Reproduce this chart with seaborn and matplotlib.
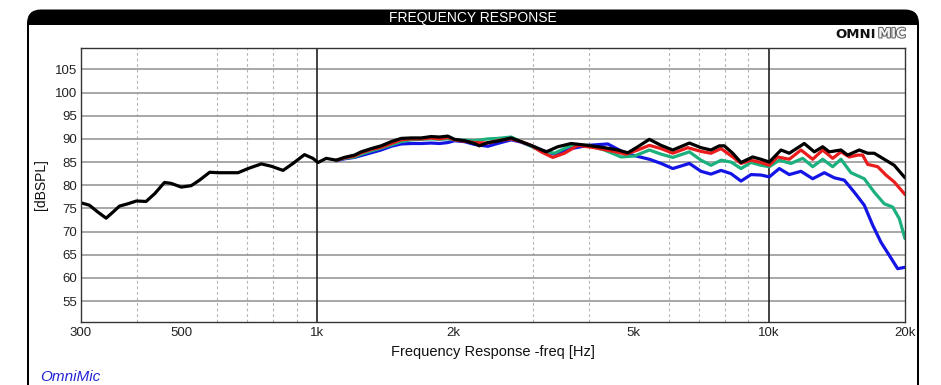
import numpy as np
import pandas as pd
import matplotlib
matplotlib.use("Agg")
import matplotlib.pyplot as plt
import matplotlib.patheffects as pe
from matplotlib.patches import FancyBboxPatch, Rectangle
import seaborn as sns

# ---------------- data (frequency in Hz, level in dBSPL) ----------------
black_freq = [300, 313, 327, 341, 353, 365, 381, 398, 418, 437, 459, 475, 500, 526, 549,
              578, 603, 634, 668, 703, 752, 791, 840, 884, 937, 978, 1004, 1047, 1102,
              1149, 1209, 1251, 1317, 1385, 1458, 1534, 1614, 1699, 1787, 1865, 1946,
              2013, 2118, 2229, 2286, 2386, 2506, 2687, 2827, 3026, 3212, 3408, 3647,
              3972, 4321, 4627, 4869, 5123, 5435, 5769, 6124, 6665, 7072, 7440, 7763,
              7964, 8312, 8670, 9203, 9600, 10016, 10630, 11088, 11970, 12596, 13147,
              13596, 14431, 14932, 15843, 16537, 17099, 17993, 18934, 20000]
black_db = [76.2, 75.7, 74.2, 72.9, 74.2, 75.5, 76.0, 76.6, 76.5, 78.2, 80.6, 80.4, 79.6,
            79.9, 81.1, 82.8, 82.7, 82.7, 82.7, 83.6, 84.6, 84.1, 83.2, 84.7, 86.6, 85.8,
            84.9, 85.8, 85.4, 86.0, 86.5, 87.2, 87.9, 88.5, 89.4, 90.1, 90.2, 90.2, 90.5,
            90.4, 90.6, 89.9, 89.6, 89.0, 88.5, 89.2, 89.5, 90.2, 89.4, 88.3, 87.2, 88.3,
            89.0, 88.6, 88.1, 87.6, 87.0, 88.3, 89.9, 88.6, 87.6, 89.1, 88.1, 87.6, 88.5,
            88.5, 86.9, 84.9, 86.1, 85.6, 85.0, 87.6, 86.9, 89.0, 87.2, 88.3, 87.2, 87.6,
            86.5, 87.6, 86.9, 86.9, 85.6, 84.3, 81.6]

red_freq = [1102, 1149, 1209, 1251, 1317, 1385, 1458, 1534, 1614, 1699, 1787, 1865, 1946,
            2013, 2118, 2229, 2386, 2506, 2687, 2827, 2975, 3131, 3322, 3525, 3775, 4108,
            4472, 4827, 5123, 5435, 5769, 6124, 6609, 7072, 7440, 7831, 8312, 8670, 9124,
            9600, 10016, 10450, 11088, 11770, 12494, 13147, 13833, 14431, 15056, 15712,
            16119, 16537, 17400, 18147, 18934, 20000]
red_db = [85.4, 85.9, 86.3, 87.0, 87.7, 88.2, 89.0, 89.8, 90.0, 90.0, 90.2, 90.0, 90.3,
          89.8, 89.5, 89.2, 89.1, 89.6, 90.0, 89.4, 88.6, 87.2, 86.0, 86.9, 88.6, 88.1,
          87.4, 86.7, 87.6, 88.6, 87.9, 86.9, 88.1, 87.3, 86.9, 87.9, 86.1, 84.7, 85.4,
          84.9, 84.3, 86.1, 85.6, 87.6, 85.6, 87.6, 85.8, 87.2, 86.1, 86.5, 86.5, 84.5,
          84.0, 82.2, 80.7, 78.0]

green_freq = [1102, 1149, 1209, 1251, 1317, 1385, 1458, 1534, 1614, 1699, 1787, 1865, 1946,
              2013, 2118, 2229, 2386, 2506, 2687, 2827, 3131, 3350, 3647, 3972, 4321, 4706,
              5035, 5435, 5769, 6124, 6665, 7072, 7440, 7831, 8240, 8670, 9124, 9600,
              10016, 10539, 11185, 11873, 12494, 13147, 13833, 14431, 15185, 16250, 17099,
              17993, 18781, 19425, 20000]
green_db = [85.4, 85.8, 86.1, 86.7, 87.4, 88.0, 88.7, 89.4, 89.8, 89.9, 90.0, 89.9, 90.0,
            89.8, 89.7, 89.6, 90.0, 90.1, 90.4, 89.4, 87.4, 86.9, 88.6, 88.6, 87.6, 86.1,
            86.3, 87.6, 86.7, 86.0, 87.2, 85.4, 84.3, 85.4, 85.0, 83.6, 84.9, 84.3, 84.0,
            85.4, 84.7, 85.8, 84.0, 85.6, 84.0, 85.6, 82.7, 81.4, 78.5, 76.0, 75.3, 72.8,
            68.5]

blue_freq = [1102, 1149, 1209, 1251, 1317, 1385, 1458, 1534, 1614, 1699, 1787, 1865, 1946,
             2013, 2118, 2229, 2386, 2506, 2687, 2827, 3131, 3350, 3647, 3972, 4397, 4786,
             5079, 5435, 5769, 6124, 6665, 7072, 7440, 7831, 8240, 8670, 9124, 9600, 10016,
             10539, 11088, 11770, 12494, 13257, 13948, 14676, 15443, 16250, 16961, 17694,
             18455, 19265, 20000]
blue_db = [85.3, 85.7, 86.0, 86.4, 87.0, 87.6, 88.4, 88.9, 89.0, 89.0, 89.1, 89.0, 89.2,
           89.6, 89.4, 88.8, 88.4, 89.0, 89.8, 89.3, 87.6, 86.7, 87.9, 88.6, 88.9, 87.0,
           86.3, 85.6, 84.7, 83.6, 84.7, 83.0, 82.4, 83.2, 82.5, 80.9, 82.3, 82.2, 81.8,
           83.6, 82.3, 83.0, 81.4, 82.7, 81.6, 81.1, 78.5, 75.7, 71.4, 67.7, 64.9, 62.0,
           62.3]

x_tick_vals = [300, 500, 1000, 2000, 5000, 10000, 20000]
x_tick_labels = ["300", "500", "1k", "2k", "5k", "10k", "20k"]
x_minor_grid = [400, 500, 600, 700, 800, 900, 2000, 3000, 4000, 5000, 6000, 7000, 8000, 9000]
x_major_grid = [1000, 10000]
y_tick_vals = [55, 60, 65, 70, 75, 80, 85, 90, 95, 100, 105]

series_order = ["blue", "green", "red", "black"]
palette = {"blue": "#1414e6", "green": "#1cb07c", "red": "#ea1c1c", "black": "#000000"}

df = pd.concat([
    pd.DataFrame({"freq": blue_freq, "db": blue_db, "series": "blue"}),
    pd.DataFrame({"freq": green_freq, "db": green_db, "series": "green"}),
    pd.DataFrame({"freq": red_freq, "db": red_db, "series": "red"}),
    pd.DataFrame({"freq": black_freq, "db": black_db, "series": "black"}),
], ignore_index=True)

# ---------------- styling ----------------
sns.set_theme(style="white")
plt.rcParams['font.family'] = ['Liberation Sans', 'DejaVu Sans']

W, H = 941, 385
fig = plt.figure(figsize=(W / 100, H / 100), dpi=100)
fig.patch.set_facecolor("white")

# background frame in pixel coordinates
bg = fig.add_axes([0, 0, 1, 1], zorder=0)
bg.set_xlim(0, W)
bg.set_ylim(H, 0)
bg.axis("off")
bg.add_patch(FancyBboxPatch((27, 9.5), 892, 420,
                            boxstyle="round,pad=0,rounding_size=14",
                            fc="black", ec="none"))
bg.add_patch(Rectangle((29, 25), 888, 420, fc="white", ec="none"))
bg.text(473, 18, "FREQUENCY RESPONSE", color="white", ha="center", va="center",
        fontsize=10)
bg.text(876, 34, "OMNI", ha="right", va="center", fontsize=9.5, fontweight="bold",
        family="DejaVu Sans", color="#111111")
bg.text(878, 34, "MIC", ha="left", va="center", fontsize=9.5, fontweight="bold",
        family="DejaVu Sans", color="#f4f4f4",
        path_effects=[pe.withStroke(linewidth=1.4, foreground="#555555")])
bg.text(40, 377, "OmniMic", ha="left", va="center", fontsize=11, style="italic",
        color="#2424d8")

# main axes
ax = fig.add_axes([81 / W, 1 - 322 / H, (905 - 81) / W, (322 - 48) / H], zorder=1)
ax.set_facecolor("white")
ax.set_xscale("log")

sns.lineplot(data=df, x="freq", y="db", hue="series", hue_order=series_order,
             palette=palette, estimator=None, sort=False, lw=2.3, legend=False, ax=ax)

ax.set_xlim(300, 20000)
ax.set_ylim(50.5, 109.6)

ax.set_xticks(x_tick_vals)
ax.set_xticklabels(x_tick_labels)
ax.set_xticks(x_minor_grid, minor=True)
ax.set_yticks(y_tick_vals)
ax.set_yticklabels([str(v) for v in y_tick_vals])
ax.tick_params(axis="both", which="both", length=0, labelsize=9.5, colors="#222222")
ax.tick_params(axis="x", pad=3.5)
ax.tick_params(axis="y", pad=3)

ax.grid(False)
ax.yaxis.grid(True, color="#a0a0a0", lw=1.3, ls="-")
ax.xaxis.grid(True, which="minor", color="#b4b4b4", lw=0.8, ls=(0, (2.5, 2.5)))
for xv in x_major_grid:
    ax.axvline(xv, color="#222222", lw=1.2, zorder=1.5)
ax.set_axisbelow(True)

for s in ax.spines.values():
    s.set_visible(True)
    s.set_color("#333333")
    s.set_linewidth(1.0)

ax.set_xlabel("Frequency Response -freq [Hz]", fontsize=10.5, color="#111111")
ax.set_ylabel("[dBSPL]", fontsize=10, color="#111111")
ax.xaxis.set_label_coords(0.5, -(345 - 322) / 274)
ax.yaxis.set_label_coords(-(81 - 48) / 824, 0.5)

fig.savefig("out.png", dpi=100, facecolor="white")
